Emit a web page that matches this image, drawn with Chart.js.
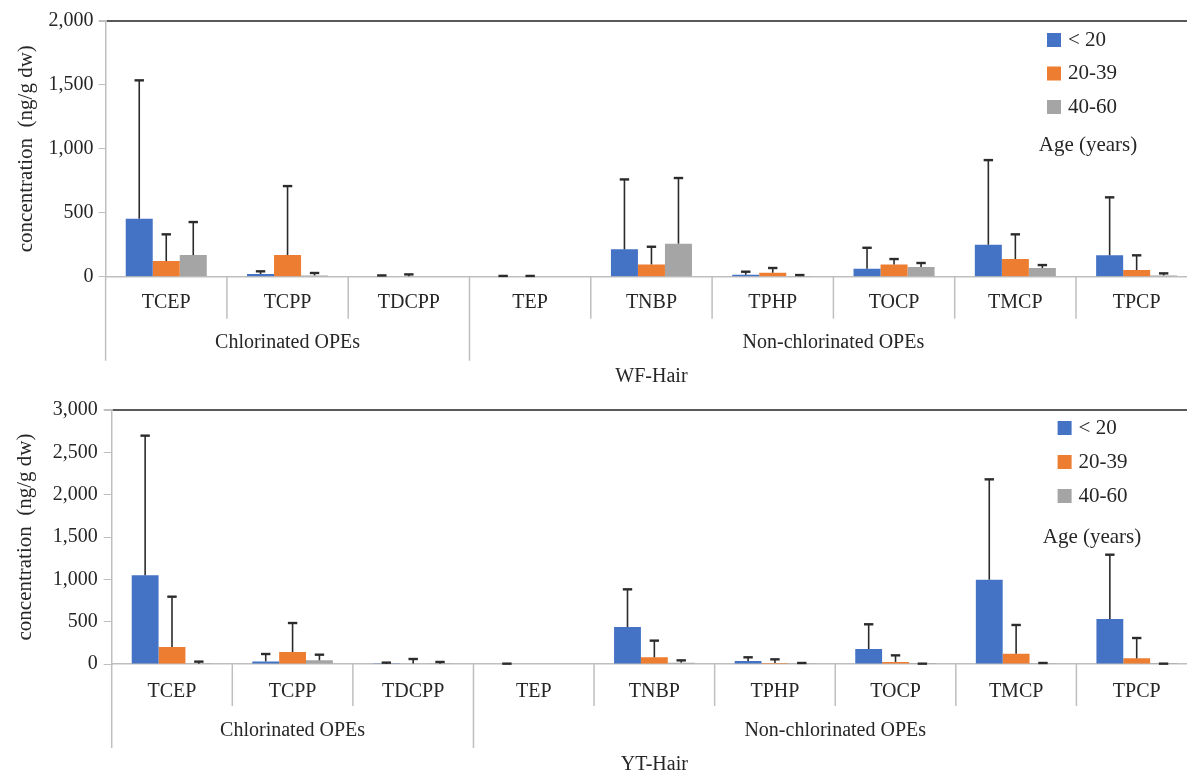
<!DOCTYPE html>
<html><head><meta charset="utf-8">
<script src="https://cdn.jsdelivr.net/npm/chart.js@4.4.1/dist/chart.umd.min.js"></script>
<style>
html,body{margin:0;padding:0;background:#fff;overflow:hidden;width:1187px;height:772px;}
#wrap{position:relative;width:1187px;height:772px;overflow:hidden;}
.panel{position:absolute;left:0;width:1200px;}
canvas{display:block;}
</style></head><body>
<div id="wrap">
<div class="panel" style="top:0;height:390px;"><canvas id="c1" width="1200" height="390"></canvas></div>
<div class="panel" style="top:390px;height:382px;"><canvas id="c2" width="1200" height="382"></canvas></div>
</div>
<script>
// ---- data ----
const compounds = ['TCEP','TCPP','TDCPP','TEP','TNBP','TPHP','TOCP','TMCP','TPCP'];
const groups = ['Chlorinated OPEs','Non-chlorinated OPEs'];
const groupSizes = [3,6];
const ageLabels = ['< 20','20-39','40-60'];
const legendTitle = 'Age (years)';
const yTitle = 'concentration  (ng/g dw)';
const panelTitles = ['WF-Hair','YT-Hair'];

const yTicksWF = ['0','500','1,000','1,500','2,000'];
const yTicksYT = ['0','500','1,000','1,500','2,000','2,500','3,000'];

// WF-Hair means and upper error limits
const wfU20     = [453, 21, 3, 3, 214, 15, 62, 250, 167];
const wfU20Err  = [1534, 42, 10, 6, 760, 39, 226, 911, 620];
const wf2039    = [122, 169, 3, 3, 96, 31, 96, 138, 52];
const wf2039Err = [331, 708, 18, 6, 234, 68, 138, 331, 167];
const wf4060    = [169, 10, 0, 0, 258, 5, 75, 68, 10];
const wf4060Err = [427, 29, 0, 0, 771, 13, 107, 91, 26];

// YT-Hair means and upper error limits
const ytU20     = [1047, 31, 2, 0, 437, 35, 177, 996, 531];
const ytU20Err  = [2697, 118, 16, 4, 882, 79, 469, 2181, 1291];
const yt2039    = [201, 142, 5, 0, 79, 12, 24, 122, 67];
const yt2039Err = [795, 484, 59, 0, 276, 55, 102, 461, 307];
const yt4060    = [3, 43, 2, 0, 16, 2, 1, 2, 1];
const yt4060Err = [28, 110, 24, 0, 43, 12, 4, 12, 4];

const colors = ['#4472C4','#ED7D31','#A5A5A5'];
const FONT = '"Liberation Serif", "Times New Roman", serif';
const TXT = '#262626';

const errorBars = {
  id:'errorBars',
  afterDatasetsDraw(chart){
    const {ctx} = chart; const y = chart.scales.y;
    chart.data.datasets.forEach((ds,i)=>{
      const meta = chart.getDatasetMeta(i);
      meta.data.forEach((bar,j)=>{
        const e = ds.errTop[j]; if(!e) return;
        const yt = y.getPixelForValue(e);
        ctx.save(); ctx.strokeStyle='#2b2b2b';
        ctx.lineWidth=1.6;
        ctx.beginPath(); ctx.moveTo(bar.x, bar.y); ctx.lineTo(bar.x, yt); ctx.stroke();
        ctx.lineWidth=2.4;
        ctx.beginPath(); ctx.moveTo(bar.x-4.7, yt); ctx.lineTo(bar.x+4.7, yt); ctx.stroke();
        ctx.restore();
      });
    });
  }
};

const axisDecor = {
  id:'axisDecor',
  afterDraw(chart){
    const o = chart.options.plugins.axisDecor;
    const {ctx, chartArea:ca} = chart; const x = chart.scales.x;
    const n = chart.data.labels.length;
    const w = x.getPixelForValue(1) - x.getPixelForValue(0);
    const edge = i => x.getPixelForValue(0) - w/2 + i*w;
    const gb = [0]; let acc = 0; groupSizes.forEach(s=>{acc+=s; gb.push(acc);});
    ctx.save();
    ctx.strokeStyle = '#bfbfbf'; ctx.lineWidth = 1.5;
    for (let i=0;i<=n;i++){
      const xx = edge(i);
      ctx.beginPath(); ctx.moveTo(xx, ca.bottom);
      ctx.lineTo(xx, ca.bottom + (gb.includes(i) ? o.groupLen : o.tickLen)); ctx.stroke();
    }
    ctx.fillStyle = TXT; ctx.textAlign='center'; ctx.textBaseline='middle';
    ctx.font = '20px ' + FONT;
    groups.forEach((g,k)=>{
      ctx.fillText(g, (edge(gb[k])+edge(gb[k+1]))/2, ca.bottom + o.groupY);
    });
    ctx.fillText(o.title, (edge(0)+edge(n))/2, ca.bottom + o.titleY);
    // legend
    const L = o.legend;
    ctx.font = '21px ' + FONT; ctx.textAlign='left';
    chart.data.datasets.forEach((ds,i)=>{
      const cy = L.y0 + i*L.dy;
      ctx.fillStyle = ds.backgroundColor;
      ctx.fillRect(L.x, cy - 7, 14, 14);
      ctx.fillStyle = TXT;
      ctx.fillText(ds.label, L.x + L.tx, cy);
    });
    ctx.textAlign='center';
    ctx.fillText(legendTitle, L.titleX, L.titleY);
    ctx.restore();
  }
};

function makeChart(id, series, errs, ymax, tickLabels, geo){
  return new Chart(document.getElementById(id), {
    type:'bar',
    data:{
      labels: compounds,
      datasets: series.map((s,i)=>({label: ageLabels[i], data: s, errTop: errs[i],
        backgroundColor: colors[i], borderWidth:0,
        categoryPercentage: 0.668, barPercentage: 1.0}))
    },
    options:{
      responsive:false, animation:false,
      layout:{padding:{top: geo.top, right: geo.right, left:0, bottom:0}},
      plugins:{legend:{display:false}, tooltip:{enabled:false},
        axisDecor: geo.decor},
      scales:{
        x:{
          grid:{display:false, drawTicks:false},
          border:{display:true, color:'#bfbfbf', width:1.5},
          ticks:{font:{family:FONT, size:20}, color:TXT, padding: geo.xPad, autoSkip:false, maxRotation:0},
          afterFit(s){ s.height = geo.xH; }
        },
        y:{
          min:0, max:ymax,
          ticks:{stepSize:500, font:{family:FONT, size:20}, color:TXT, padding: geo.yPad,
            callback:(v,i)=>tickLabels[i]},
          grid:{color:c=> (c.tick && c.tick.value===ymax) ? '#595959' : 'rgba(0,0,0,0)',
                lineWidth:c=> (c.tick && c.tick.value===ymax) ? 2 : 1,
                tickColor:'#bfbfbf', tickLength: geo.tickLen, drawTicks:true},
          border:{display:true, color:'#bfbfbf', width:1.5},
          title:{display:true, text:yTitle, font:{family:FONT, size:21}, color:TXT,
            padding:{top: geo.titlePad, bottom:0}},
          afterFit(s){ s.width = geo.yW; }
        }
      }
    },
    plugins:[errorBars, axisDecor]
  });
}

makeChart('c1', [wfU20, wf2039, wf4060], [wfU20Err, wf2039Err, wf4060Err], 2000, yTicksWF, {
  top:20.7, right:2.7, xH:390-276.7, xPad:14, yW:105.6, yPad:5, tickLen:7, titlePad:13.4,
  decor:{tickLen:42, groupLen:84, groupY:66, titleY:100, title:panelTitles[0],
    legend:{x:1047, y0:40, dy:33.5, tx:21, titleX:1088, titleY:145}}
});
makeChart('c2', [ytU20, yt2039, yt4060], [ytU20Err, yt2039Err, yt4060Err], 3000, yTicksYT, {
  top:20, right:3, xH:382-274, xPad:15.7, yW:111.7, yPad:6, tickLen:8, titlePad:12.4,
  decor:{tickLen:42, groupLen:84, groupY:66.7, titleY:101, title:panelTitles[1],
    legend:{x:1057.6, y0:38, dy:34, tx:21, titleX:1092, titleY:147}}
});
</script>
</body></html>
